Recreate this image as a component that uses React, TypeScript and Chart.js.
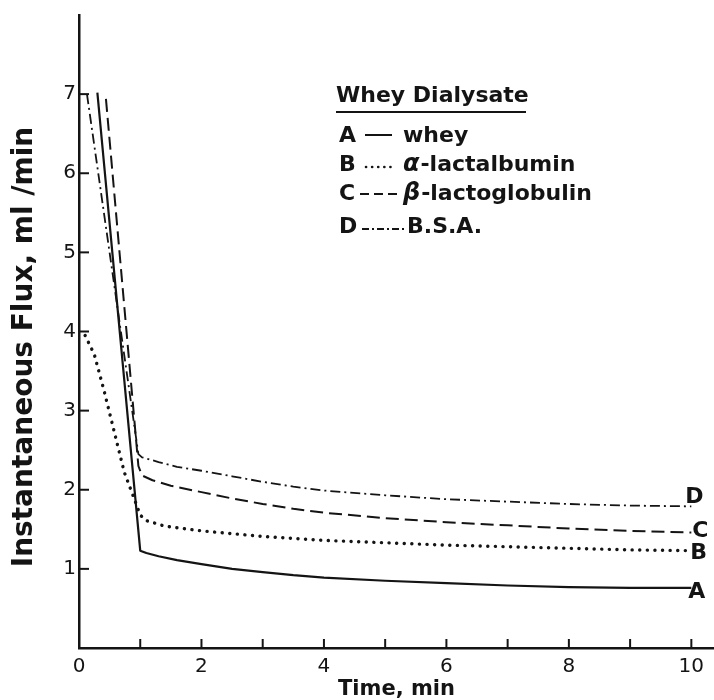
import React, { useEffect, useRef } from "react";
import { Chart, registerables } from "chart.js";

Chart.register(...registerables);

// ---- data ----
const timeA = [0.3, 1.0, 1.1, 1.3, 1.6, 2, 2.5, 3, 3.5, 4, 5, 6, 7, 8, 9, 10];
const fluxA = [7.02, 1.23, 1.2, 1.16, 1.11, 1.06, 1.0, 0.96, 0.92, 0.89, 0.85, 0.82, 0.79, 0.77, 0.76, 0.76];

const timeB = [0.1, 0.25, 0.41, 0.57, 0.74, 0.9, 1.0, 1.1, 1.4, 2, 3, 4, 5, 6, 7, 8, 9, 10];
const fluxB = [3.95, 3.71, 3.25, 2.75, 2.22, 1.89, 1.68, 1.61, 1.54, 1.48, 1.41, 1.36, 1.33, 1.3, 1.28, 1.26, 1.24, 1.23];

const timeC = [0.44, 0.97, 1.03, 1.2, 1.5, 2, 2.5, 3, 3.5, 4, 5, 6, 7, 8, 9, 10];
const fluxC = [6.94, 2.3, 2.18, 2.12, 2.05, 1.97, 1.89, 1.82, 1.76, 1.71, 1.64, 1.59, 1.55, 1.51, 1.48, 1.46];

const timeD = [0.13, 0.97, 1.03, 1.3, 1.6, 2, 2.5, 3, 3.5, 4, 5, 6, 7, 8, 9, 10];
const fluxD = [7.0, 2.45, 2.41, 2.35, 2.29, 2.24, 2.17, 2.1, 2.04, 1.99, 1.93, 1.88, 1.85, 1.82, 1.8, 1.79];

const seriesLetters = ["A", "B", "C", "D"];
const legendTitle = "Whey Dialysate";
const legendGreek = ["", "α", "β", ""];
const legendNames = ["whey", "-lactalbumin", "-lactoglobulin", "B.S.A."];

const xTickValues = [1, 2, 3, 4, 5, 6, 7, 8, 9, 10];
const yTickValues = [1, 2, 3, 4, 5, 6, 7];
const xAxisTitle = "Time, min";
const yAxisTitle = "Instantaneous Flux, ml /min";

const INK = "#141414";
const FONT = "'DejaVu Sans', 'Liberation Sans', sans-serif";

const toPoints = (xs: number[], ys: number[]) => xs.map((x, i) => ({ x, y: ys[i] }));

// dash styles per series
const styles = [
  { dash: [] as number[], width: 2.2, cap: "butt" },
  { dash: [0.1, 7.5], width: 3.4, cap: "round" },
  { dash: [13, 6], width: 2, cap: "butt" },
  { dash: [10, 4, 2, 4], width: 1.8, cap: "butt" },
];

const overlayPlugin = {
  id: "overlay",
  afterDraw(chart: any) {
    const { ctx } = chart;
    const xs = chart.scales.x;
    const ys = chart.scales.y;
    ctx.save();
    ctx.strokeStyle = INK;
    ctx.fillStyle = INK;
    ctx.lineWidth = 2;
    ctx.setLineDash([]);
    // inward ticks
    const yBase = ys.getPixelForValue(0);
    xTickValues.forEach((v) => {
      const px = xs.getPixelForValue(v);
      ctx.beginPath();
      ctx.moveTo(px, yBase);
      ctx.lineTo(px, yBase - 9);
      ctx.stroke();
    });
    const xBase = xs.getPixelForValue(0);
    yTickValues.forEach((v) => {
      const py = ys.getPixelForValue(v);
      ctx.beginPath();
      ctx.moveTo(xBase, py);
      ctx.lineTo(xBase + 10, py);
      ctx.stroke();
    });

    // y axis title (rotated)
    ctx.save();
    ctx.translate(25, 347);
    ctx.rotate(-Math.PI / 2);
    ctx.textAlign = "center";
    ctx.textBaseline = "middle";
    ctx.font = `bold 28px ${FONT}`;
    ctx.fillText(yAxisTitle, 0, 0);
    ctx.restore();

    // legend block
    ctx.textAlign = "left";
    ctx.textBaseline = "alphabetic";
    ctx.font = `bold 22px ${FONT}`;
    ctx.fillText(legendTitle, 336, 102);
    ctx.beginPath();
    ctx.moveTo(336, 112);
    ctx.lineTo(526, 112);
    ctx.lineWidth = 2;
    ctx.stroke();

    const rows = [
      { base: 142, lineY: 135, x1: 365, x2: 392, textX: 403 },
      { base: 171, lineY: 167, x1: 366, x2: 396, textX: 403 },
      { base: 200, lineY: 194, x1: 360, x2: 401, textX: 403 },
      { base: 233, lineY: 229, x1: 362, x2: 404, textX: 407 },
    ];
    rows.forEach((r, i) => {
      const st = styles[i];
      ctx.font = `bold 22px ${FONT}`;
      ctx.fillText(seriesLetters[i], 339, r.base);
      ctx.beginPath();
      ctx.setLineDash(i === 1 ? [0.1, 6] : i === 2 ? [9, 5] : i === 3 ? [7, 3, 2, 3] : []);
      ctx.lineCap = st.cap;
      ctx.lineWidth = i === 1 ? 2.6 : 2;
      ctx.moveTo(r.x1, r.lineY);
      ctx.lineTo(r.x2, r.lineY);
      ctx.stroke();
      ctx.setLineDash([]);
      ctx.lineCap = "butt";
      let tx = r.textX;
      if (legendGreek[i]) {
        ctx.font = `italic bold 24px ${FONT}`;
        ctx.fillText(legendGreek[i], tx, r.base);
        tx += ctx.measureText(legendGreek[i]).width + 1;
      }
      ctx.font = `bold 22px ${FONT}`;
      ctx.fillText(legendNames[i], tx, r.base);
    });

    // end-of-curve letters
    const lastVals = [fluxA, fluxB, fluxC, fluxD].map((a) => a[a.length - 1]);
    const labelOffsets = [
      { dx: -3, dy: 10 },
      { dx: -1, dy: 8 },
      { dx: 1, dy: 5 },
      { dx: -6, dy: -3 },
    ];
    ctx.font = `bold 22px ${FONT}`;
    const xEnd = xs.getPixelForValue(10);
    lastVals.forEach((v, i) => {
      const py = ys.getPixelForValue(v);
      ctx.fillText(seriesLetters[i], xEnd + labelOffsets[i].dx, py + labelOffsets[i].dy);
    });
    ctx.restore();
  },
};

export default function App() {
  const ref = useRef<HTMLCanvasElement | null>(null);
  useEffect(() => {
    const canvas = ref.current;
    if (!canvas) return;
    const seriesX = [timeA, timeB, timeC, timeD];
    const seriesY = [fluxA, fluxB, fluxC, fluxD];
    const chart = new Chart(canvas, {
      type: "line",
      data: {
        datasets: seriesX.map((xs, i) => ({
          label: seriesLetters[i],
          data: toPoints(xs, seriesY[i]),
          borderColor: INK,
          backgroundColor: INK,
          borderWidth: styles[i].width,
          borderDash: styles[i].dash,
          borderCapStyle: styles[i].cap as any,
          borderJoinStyle: "round" as any,
          pointRadius: 0,
          fill: false,
          tension: 0,
        })),
      },
      options: {
        animation: false,
        responsive: false,
        devicePixelRatio: 1,
        layout: { padding: { top: 13, right: 0, left: 0, bottom: 0 } },
        plugins: {
          legend: { display: false },
          tooltip: { enabled: false },
        },
        scales: {
          x: {
            type: "linear",
            min: 0,
            max: 10.37,
            grid: { display: false, drawTicks: false },
            border: { display: true, color: INK, width: 2.5 },
            ticks: {
              stepSize: 1,
              includeBounds: false,
              autoSkip: false,
              maxRotation: 0,
              padding: 7,
              color: INK,
              font: { family: FONT, size: 20 },
              callback: (v: any) => (Number.isInteger(v) && v % 2 === 0 ? String(v) : ""),
            },
            title: {
              display: true,
              text: xAxisTitle,
              color: INK,
              font: { family: FONT, size: 21, weight: "bold", lineHeight: 1 },
              padding: 0,
            },
            afterFit: (scale: any) => {
              scale.height = 52;
            },
          },
          y: {
            type: "linear",
            min: 0,
            max: 8,
            grid: { display: false, drawTicks: false },
            border: { display: true, color: INK, width: 2.5 },
            ticks: {
              stepSize: 1,
              includeBounds: false,
              padding: 3,
              color: INK,
              font: { family: FONT, size: 20 },
              callback: (v: any) => (v >= 1 && v <= 7 && Number.isInteger(v) ? String(v) : ""),
            },
            title: { display: false },
            afterFit: (scale: any) => {
              scale.width = 79;
            },
          },
        },
      },
      plugins: [overlayPlugin],
    });
    return () => chart.destroy();
  }, []);

  return (
    <div style={{ position: "absolute", left: 0, top: 0, width: 714, height: 700, background: "#fff" }}>
      <canvas ref={ref} width={714} height={700} style={{ display: "block" }} />
    </div>
  );
}
